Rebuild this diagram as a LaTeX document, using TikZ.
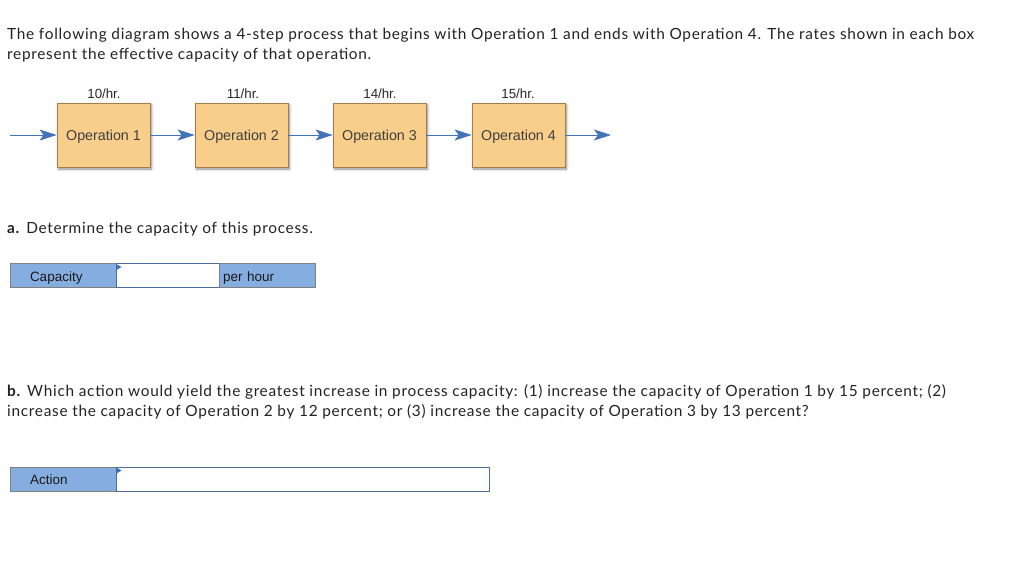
\documentclass[tikz,border=0pt]{standalone}
\usepackage{fontspec}
\setmainfont{Lato}[LetterSpace=4.6]
\newfontfamily\boxfont{Liberation Sans}
\usetikzlibrary{arrows.meta,shadows.blur,positioning}

\definecolor{opfill}{HTML}{F8CE8A}
\definecolor{opline}{HTML}{A07E4E}
\definecolor{flowblue}{HTML}{4272B8}
\definecolor{cellblue}{HTML}{86ADE0}
\definecolor{cellline}{HTML}{808080}
\definecolor{inputline}{HTML}{4A6C9E}
\definecolor{txt}{HTML}{222222}

\tikzset{
	opbox/.style={draw=opline, fill=opfill, line width=0.8pt, minimum width=93pt, minimum height=64pt,
		inner sep=0pt, text height=10pt, text depth=0pt, font=\boxfont\fontsize{14.3}{16}\selectfont, text=black!75,
		blur shadow={shadow xshift=1.5pt, shadow yshift=-2pt, shadow blur steps=6, shadow blur radius=2.5pt, shadow opacity=45}},
	rate/.style={font=\boxfont\fontsize{13.3}{15}\selectfont, text=black!85},
	flow/.style={draw=flowblue, line width=0.8pt, -{Stealth[length=17pt,width=11pt,inset=4pt]}},
	para/.style={anchor=base west, inner sep=0pt, font=\fontsize{15.4}{19.5}\selectfont, text=txt, align=left},
	cell/.style={draw=cellline, fill=cellblue, line width=0.8pt, minimum height=24pt, inner sep=0pt,
		text height=11.5pt, text depth=0.5pt, font=\boxfont\fontsize{13.5}{15}\selectfont, text=black!90},
	inbox/.style={draw=inputline, fill=white, line width=1pt, minimum height=24pt, inner sep=0pt}
}

\begin{document}
\begin{tikzpicture}[x=1pt,y=-1pt]
	\useasboundingbox (0,0) rectangle (1024,570);

	\node[para] (intro) at (7,59) {The following diagram shows a 4-step process that begins with Operation 1 and ends with Operation 4. The rates shown in each box\\represent the effective capacity of that operation.};

	\coordinate (start) at (10,135);
	\node[opbox] (op1) at (103.5,135) {Operation 1};
	\node[opbox] (op2) at (241.5,135) {Operation 2};
	\node[opbox] (op3) at (379.5,135) {Operation 3};
	\node[opbox] (op4) at (518.5,135) {Operation 4};
	\coordinate (finish) at (611,135);

	\node[rate] (r1) at (104,93.5) {10/hr.};
	\node[rate] (r2) at (243,93.5) {11/hr.};
	\node[rate] (r3) at (380,93.5) {14/hr.};
	\node[rate] (r4) at (518,93.5) {15/hr.};

	\draw[flow] (start) -- (op1);
	\draw[flow] (op1) -- (op2);
	\draw[flow] (op2) -- (op3);
	\draw[flow] (op3) -- (op4);
	\draw[flow] (op4) -- (finish);

	\node[para] (qa) at (7,233) {\textbf{a.} Determine the capacity of this process.};

	\node[cell, minimum width=106pt, text width=66pt] (caplabel) at (63,275.5) {Capacity};
	\node[inbox, minimum width=103pt] (capin) at (167.5,275.5) {};
	\node[cell, minimum width=96pt, text width=88pt] (capunit) at (267,275.5) {per hour};
	\fill[flowblue] (capin.north west) ++(1,1) -- ++(5,3) -- ++(-5,3) -- cycle;

	\node[para] (qb) at (7,416) {\textbf{b.} Which action would yield the greatest increase in process capacity: (1) increase the capacity of Operation 1 by 15 percent; (2)\\increase the capacity of Operation 2 by 12 percent; or (3) increase the capacity of Operation 3 by 13 percent?};

	\node[cell, minimum width=106pt, text width=66pt] (actlabel) at (63,479) {Action};
	\node[inbox, minimum width=373pt] (actin) at (302.5,479) {};
	\fill[flowblue] (actin.north west) ++(1,1) -- ++(5,3) -- ++(-5,3) -- cycle;
\end{tikzpicture}
\end{document}
